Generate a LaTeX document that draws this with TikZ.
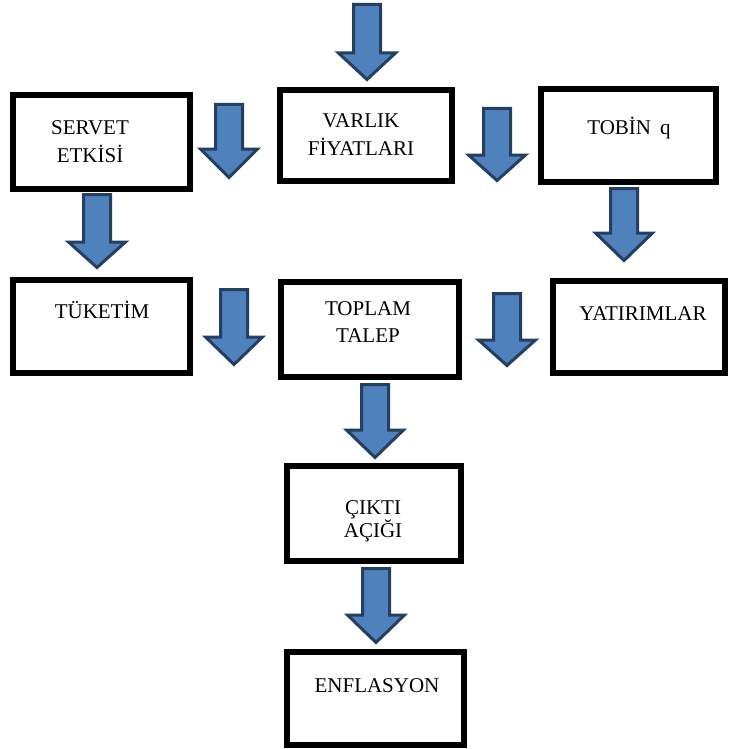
\documentclass[tikz,border=0pt]{standalone}
\usepackage{fontspec}
\setmainfont{Liberation Serif}
\definecolor{afill}{HTML}{4F81BD}
\definecolor{aline}{HTML}{243F60}
\tikzset{
  box/.style={draw=black, line width=6pt, fill=white, inner sep=0pt, rectangle},
  lbl/.style={font=\fontsize{21}{25}\selectfont, inner sep=0pt, anchor=base},
  barrow/.style={draw=aline, fill=afill, line width=3pt, line join=miter}
}
% block arrow: centre x, top y, head base y, tip y
\newcommand\blkarrow[4]{%
  \draw[barrow] ({#1-13.5},{#2+1.5}) -- ({#1+13.5},{#2+1.5}) -- ({#1+13.5},#3)
    -- ({#1+28.5},#3) -- (#1,{#4-2.5}) -- ({#1-28.5},#3) -- ({#1-13.5},#3) -- cycle;}
\begin{document}
\begin{tikzpicture}[x=1pt,y=-1pt]
\useasboundingbox (0,0) rectangle (729,749);
\fill[white] (0,0) rectangle (729,749);

% boxes
\node[box, minimum width=177pt, minimum height=94pt] (servet) at (101.5,142) {};
\node[box, minimum width=172pt, minimum height=91pt] (varlik) at (366,135.5) {};
\node[box, minimum width=175pt, minimum height=93pt] (tobin) at (628.5,135.5) {};
\node[box, minimum width=177pt, minimum height=93pt] (tuketim) at (101.5,326.5) {};
\node[box, minimum width=178pt, minimum height=95pt] (toplam) at (370,329.5) {};
\node[box, minimum width=172pt, minimum height=92pt] (yatirim) at (639,327) {};
\node[box, minimum width=174pt, minimum height=95pt] (cikti) at (374,513.5) {};
\node[box, minimum width=177pt, minimum height=93pt] (enf) at (375.5,698.5) {};

% texts
\node[lbl] (t-servet1) at (90,135) {SERVET};
\node[lbl] (t-servet2) at (90,162) {ETKİSİ};
\node[lbl] (t-varlik1) at (361,128) {VARLIK};
\node[lbl] (t-varlik2) at (361,155) {FİYATLARI};
\node[lbl] (t-tobin) at (629,135) {TOBİN\hspace{9pt}q};
\node[lbl] (t-tuketim) at (102,318) {TÜKETİM};
\node[lbl] (t-toplam1) at (368,315) {TOPLAM};
\node[lbl] (t-toplam2) at (368,342) {TALEP};
\node[lbl] (t-yatirim) at (643,320) {YATIRIMLAR};
\node[lbl] (t-cikti1) at (373,514) {ÇIKTI};
\node[lbl] (t-cikti2) at (373,537) {AÇIĞI};
\node[lbl] (t-enf) at (377,692) {ENFLASYON};

% block arrows
\blkarrow{367}{3}{53}{82}
\blkarrow{229}{103}{149}{180}
\blkarrow{497}{107}{155}{183}
\blkarrow{97}{193}{242}{270}
\blkarrow{624}{187}{233}{263}
\blkarrow{234}{288}{337}{367}
\blkarrow{507}{292}{340}{368}
\blkarrow{375}{383}{430}{460}
\blkarrow{376}{567}{615}{645}
\end{tikzpicture}
\end{document}
